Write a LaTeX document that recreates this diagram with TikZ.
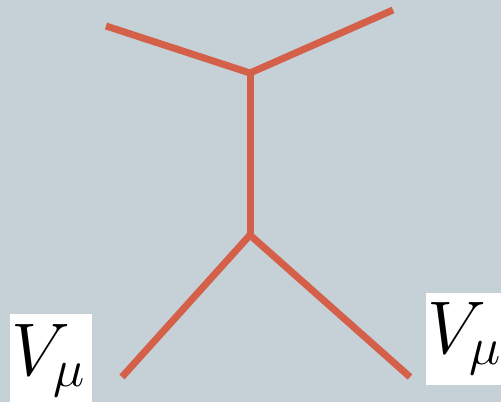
\documentclass[tikz,border=0pt]{standalone}
\usepackage{graphicx}
\newcommand{\vmlabel}{\scalebox{3.0}{\Huge$V_{\scalebox{0.85}{$\scriptstyle\mu$}}$}}
\begin{document}
\begin{tikzpicture}[x=1pt,y=-1pt,
  prop/.style={line width=7pt,draw=lineC},
  labbox/.style={fill=white,draw=none,inner sep=0pt},
  labtxt/.style={inner sep=0pt}]
\definecolor{bgC}{HTML}{C5D0D7}
\definecolor{lineC}{HTML}{D4604A}
\fill[bgC] (0,0) rectangle (501,402);
\useasboundingbox (0,0) rectangle (501,402);
\coordinate (tl) at (106,26);
\coordinate (tr) at (393,10);
\coordinate (v1) at (250,73);
\coordinate (v2) at (250,235);
\coordinate (bl) at (122,377);
\coordinate (br) at (410,377);
\draw[prop,line join=miter] (tl) -- (v1) -- (tr);
\draw[prop] (v1) -- (v2);
\draw[prop] (v2) -- (bl);
\draw[prop] (v2) -- (br);
\node[labbox,minimum width=82pt,minimum height=89pt] (boxL) at (51,358) {};
\node[labbox,minimum width=75pt,minimum height=92pt] (boxR) at (463.5,339) {};
\node[labtxt,anchor=base west] (txtL) at (11,375) {\vmlabel};
\node[labtxt,anchor=base west] (txtR) at (427,353) {\vmlabel};
\end{tikzpicture}
\end{document}
